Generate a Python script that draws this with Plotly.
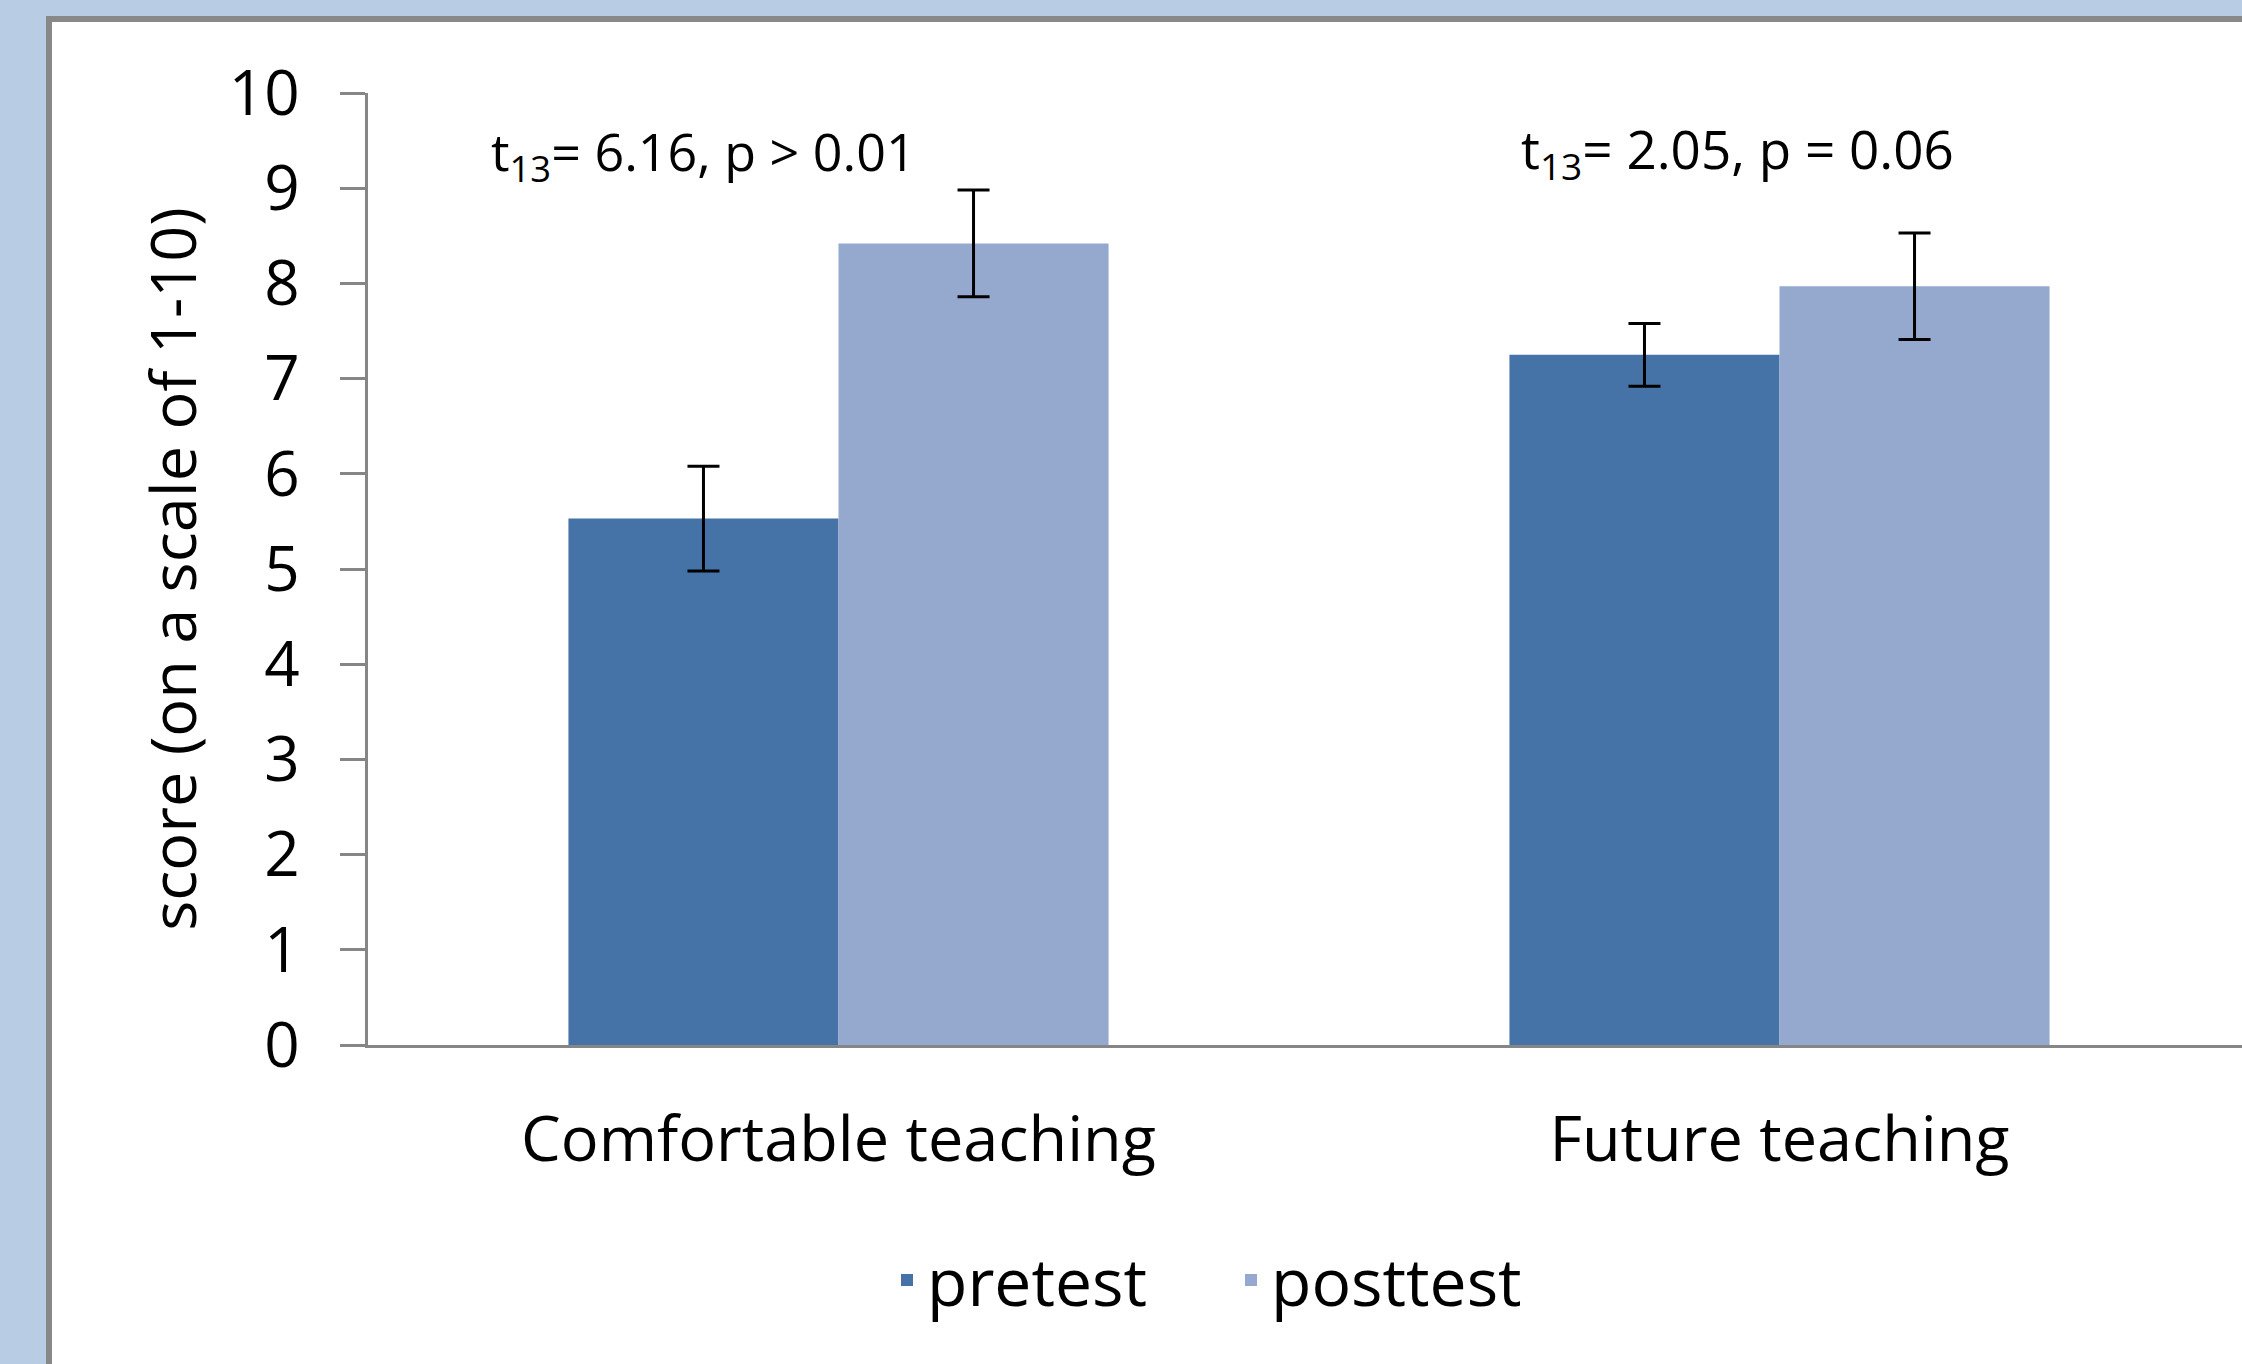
import plotly.graph_objects as go

categories = ["Comfortable teaching", "Future teaching"]
pretest = [5.53, 7.25]
posttest = [8.42, 7.97]
pretest_err = [0.55, 0.33]
posttest_err = [0.56, 0.56]
y_ticks = list(range(0, 11))
stat_labels = ["t<sub>13</sub>= 6.16, p > 0.01", "t<sub>13</sub>= 2.05, p = 0.06"]

FONT = "Comic Sans MS, Open Sans, sans-serif"
AXIS_GRAY = "#868686"

fig = go.Figure()
fig.add_trace(go.Bar(
    name="pretest", x=categories, y=pretest,
    marker=dict(color="#4573A7", line=dict(width=0)),
    error_y=dict(type="data", array=pretest_err, color="black", thickness=3, width=16),
))
fig.add_trace(go.Bar(
    name="posttest", x=categories, y=posttest,
    marker=dict(color="#95A9CF", line=dict(width=0)),
    error_y=dict(type="data", array=posttest_err, color="black", thickness=3, width=16),
))

W, H = 2242, 1364
ml, mr, mt, mb = 368, 0, 93, 319
pw = W - ml - mr
ph = H - mt - mb

fig.update_layout(
    width=W, height=H,
    margin=dict(l=ml, r=mr, t=mt, b=mb, pad=0),
    barmode="group", bargap=0.426, bargroupgap=0,
    paper_bgcolor="#B8CCE4",
    plot_bgcolor="rgba(0,0,0,0)",
    font=dict(family=FONT, color="black", size=56),
    showlegend=True,
    legend=dict(orientation="h", x=(887 - ml) / pw, xanchor="left", y=-0.247, yanchor="middle",
                entrywidth=299, entrywidthmode="pixels",
                font=dict(size=66, family=FONT), bgcolor="rgba(0,0,0,0)",
                itemclick=False, traceorder="normal"),
)
fig.update_xaxes(
    range=[-0.5, -0.5 + pw / 941.0],
    showline=True, linecolor=AXIS_GRAY, linewidth=3,
    ticks="outside", ticklen=37, tickcolor="rgba(0,0,0,0)",
    tickfont=dict(size=63, family=FONT), showgrid=False, zeroline=False,
)
fig.update_yaxes(
    range=[0, 10], tickvals=y_ticks, ticktext=[str(v) for v in y_ticks],
    showline=True, linecolor=AXIS_GRAY, linewidth=3,
    ticks="outside", ticklen=25, tickcolor=AXIS_GRAY, tickwidth=3,
    ticklabelstandoff=28,
    tickfont=dict(size=62, family=FONT), showgrid=False, zeroline=False,
    title=dict(text="score (on a scale of 1-10)", font=dict(size=63, family=FONT), standoff=12),
)

# outer frame (white panel with gray border on light-blue background)
fig.add_shape(type="rect", xref="paper", yref="paper",
              x0=(49 - ml) / pw, x1=1.2, y0=-0.5, y1=(H - mb - 19) / ph,
              fillcolor="white", line=dict(color="#888888", width=6), layer="below")

# t-test annotations
ann_x = [-0.143, 0.955]
ann_y = [9.36, 9.39]
ann_size = [52, 53]
for tx, xx, yy, sz in zip(stat_labels, ann_x, ann_y, ann_size):
    fig.add_annotation(text=tx, x=xx, y=yy, xref="x", yref="y", showarrow=False,
                       xanchor="center", yanchor="middle",
                       font=dict(size=sz, family=FONT, color="black"))

fig.write_html("out.html", config={"displayModeBar": False},
               post_script="document.body.style.margin='0px';")
